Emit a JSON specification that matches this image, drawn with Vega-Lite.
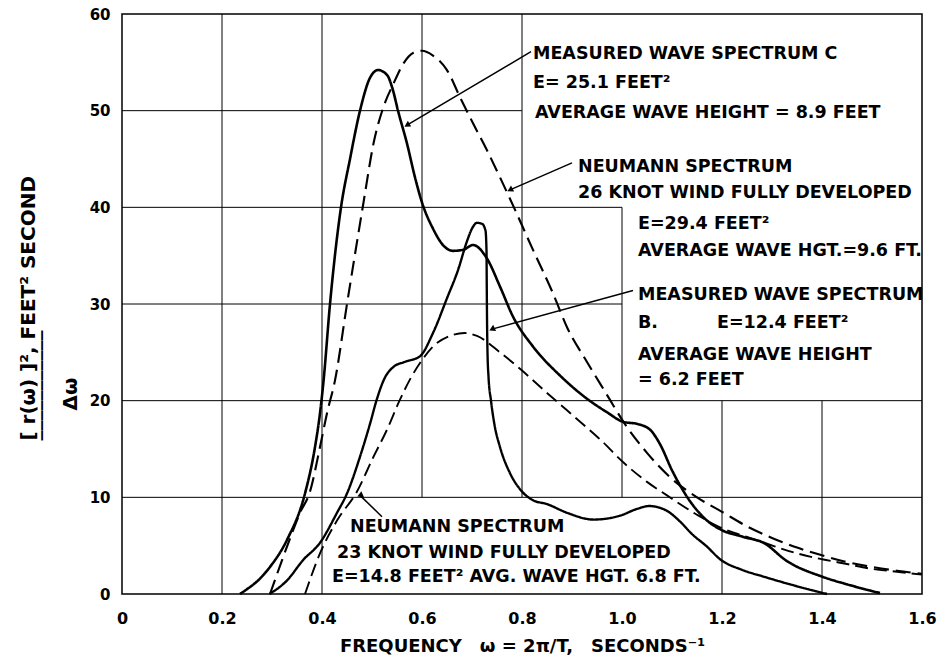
{
  "$schema": "https://vega.github.io/schema/vega-lite/v6.json",
  "width": 800,
  "height": 580,
  "autosize": {"type": "none"},
  "padding": {"left": 122, "top": 14, "right": 21, "bottom": 75},
  "background": "white",
  "config": {"view": {"stroke": "black", "strokeWidth": 1.5}, "font": "DejaVu Sans"},
  "datasets": {
    "grid": [
      {"x": 0.2, "x2": 0.2, "y": 0, "y2": 60},
      {"x": 0.4, "x2": 0.4, "y": 0, "y2": 60},
      {"x": 0.6, "x2": 0.6, "y": 10, "y2": 60},
      {"x": 0.8, "x2": 0.8, "y": 10, "y2": 60},
      {"x": 1.0, "x2": 1.0, "y": 10, "y2": 40},
      {"x": 1.2, "x2": 1.2, "y": 0, "y2": 20},
      {"x": 1.4, "x2": 1.4, "y": 0, "y2": 20},
      {"x": 0, "x2": 1.6, "y": 10, "y2": 10},
      {"x": 0, "x2": 1.6, "y": 20, "y2": 20},
      {"x": 0, "x2": 1.0, "y": 30, "y2": 30},
      {"x": 0, "x2": 1.0, "y": 40, "y2": 40},
      {"x": 0, "x2": 0.8, "y": 50, "y2": 50}
    ],
    "curves": [
      {"s": "C", "x": 0.236, "y": 0},
      {"s": "C", "x": 0.25, "y": 0.5},
      {"s": "C", "x": 0.27, "y": 1.3},
      {"s": "C", "x": 0.296, "y": 2.8},
      {"s": "C", "x": 0.33, "y": 5.6},
      {"s": "C", "x": 0.366, "y": 10.4},
      {"s": "C", "x": 0.386, "y": 15.2},
      {"s": "C", "x": 0.396, "y": 18.7},
      {"s": "C", "x": 0.403, "y": 22},
      {"s": "C", "x": 0.416, "y": 30},
      {"s": "C", "x": 0.438, "y": 40},
      {"s": "C", "x": 0.456, "y": 45},
      {"s": "C", "x": 0.476, "y": 50},
      {"s": "C", "x": 0.496, "y": 53.4},
      {"s": "C", "x": 0.512, "y": 54.2},
      {"s": "C", "x": 0.53, "y": 53.7},
      {"s": "C", "x": 0.542, "y": 52.1},
      {"s": "C", "x": 0.552, "y": 50},
      {"s": "C", "x": 0.57, "y": 46.6},
      {"s": "C", "x": 0.586, "y": 43.1},
      {"s": "C", "x": 0.6, "y": 40.5},
      {"s": "C", "x": 0.622, "y": 37.8},
      {"s": "C", "x": 0.642, "y": 36.1},
      {"s": "C", "x": 0.662, "y": 35.5},
      {"s": "C", "x": 0.682, "y": 35.6},
      {"s": "C", "x": 0.702, "y": 36.1},
      {"s": "C", "x": 0.73, "y": 34.7},
      {"s": "C", "x": 0.756, "y": 31.8},
      {"s": "C", "x": 0.782, "y": 28.7},
      {"s": "C", "x": 0.822, "y": 25.6},
      {"s": "C", "x": 0.876, "y": 22.6},
      {"s": "C", "x": 0.93, "y": 20.2},
      {"s": "C", "x": 0.97, "y": 18.8},
      {"s": "C", "x": 1.003, "y": 17.8},
      {"s": "C", "x": 1.03, "y": 17.6},
      {"s": "C", "x": 1.056, "y": 17},
      {"s": "C", "x": 1.076, "y": 15.5},
      {"s": "C", "x": 1.1, "y": 12.8},
      {"s": "C", "x": 1.136, "y": 9.6},
      {"s": "C", "x": 1.17, "y": 7.6},
      {"s": "C", "x": 1.2, "y": 6.6},
      {"s": "C", "x": 1.243, "y": 5.9},
      {"s": "C", "x": 1.283, "y": 5.3},
      {"s": "C", "x": 1.33, "y": 3.4},
      {"s": "C", "x": 1.4, "y": 1.8},
      {"s": "C", "x": 1.45, "y": 1.0},
      {"s": "C", "x": 1.516, "y": 0.1},
      {"s": "B", "x": 0.295, "y": 0},
      {"s": "B", "x": 0.33, "y": 1.4},
      {"s": "B", "x": 0.362, "y": 3.5},
      {"s": "B", "x": 0.396, "y": 5.3},
      {"s": "B", "x": 0.43, "y": 8.4},
      {"s": "B", "x": 0.45, "y": 10.4},
      {"s": "B", "x": 0.476, "y": 14.2},
      {"s": "B", "x": 0.496, "y": 17.6},
      {"s": "B", "x": 0.51, "y": 20.2},
      {"s": "B", "x": 0.525, "y": 22.3},
      {"s": "B", "x": 0.543, "y": 23.5},
      {"s": "B", "x": 0.565, "y": 24},
      {"s": "B", "x": 0.596, "y": 24.6},
      {"s": "B", "x": 0.622, "y": 27},
      {"s": "B", "x": 0.65, "y": 30.6},
      {"s": "B", "x": 0.672, "y": 33.5},
      {"s": "B", "x": 0.69, "y": 36.5},
      {"s": "B", "x": 0.7, "y": 37.8},
      {"s": "B", "x": 0.71, "y": 38.4},
      {"s": "B", "x": 0.72, "y": 38.3},
      {"s": "B", "x": 0.727, "y": 37.6},
      {"s": "B", "x": 0.729, "y": 35.5},
      {"s": "B", "x": 0.7295, "y": 32},
      {"s": "B", "x": 0.73, "y": 28.7},
      {"s": "B", "x": 0.731, "y": 25},
      {"s": "B", "x": 0.733, "y": 22.5},
      {"s": "B", "x": 0.738, "y": 20},
      {"s": "B", "x": 0.745, "y": 17.5},
      {"s": "B", "x": 0.756, "y": 15.2},
      {"s": "B", "x": 0.776, "y": 12.5},
      {"s": "B", "x": 0.8, "y": 10.6},
      {"s": "B", "x": 0.822, "y": 9.7},
      {"s": "B", "x": 0.85, "y": 9.3},
      {"s": "B", "x": 0.89, "y": 8.4},
      {"s": "B", "x": 0.943, "y": 7.7},
      {"s": "B", "x": 0.996, "y": 8.1},
      {"s": "B", "x": 1.03, "y": 8.8},
      {"s": "B", "x": 1.055, "y": 9.1},
      {"s": "B", "x": 1.07, "y": 9.0},
      {"s": "B", "x": 1.09, "y": 8.6},
      {"s": "B", "x": 1.116, "y": 7.5},
      {"s": "B", "x": 1.14, "y": 6.2},
      {"s": "B", "x": 1.17, "y": 4.9},
      {"s": "B", "x": 1.196, "y": 3.6},
      {"s": "B", "x": 1.24, "y": 2.5},
      {"s": "B", "x": 1.283, "y": 1.8},
      {"s": "B", "x": 1.35, "y": 0.8},
      {"s": "B", "x": 1.41, "y": 0},
      {"s": "N26", "x": 0.296, "y": 0},
      {"s": "N26", "x": 0.33, "y": 4.9},
      {"s": "N26", "x": 0.356, "y": 8.4},
      {"s": "N26", "x": 0.376, "y": 10.6},
      {"s": "N26", "x": 0.396, "y": 15.2},
      {"s": "N26", "x": 0.41, "y": 18.7},
      {"s": "N26", "x": 0.426, "y": 22.1},
      {"s": "N26", "x": 0.45, "y": 30},
      {"s": "N26", "x": 0.483, "y": 40.5},
      {"s": "N26", "x": 0.503, "y": 46.6},
      {"s": "N26", "x": 0.523, "y": 50.4},
      {"s": "N26", "x": 0.543, "y": 52.8},
      {"s": "N26", "x": 0.563, "y": 54.9},
      {"s": "N26", "x": 0.583, "y": 56},
      {"s": "N26", "x": 0.6, "y": 56.2},
      {"s": "N26", "x": 0.622, "y": 55.7},
      {"s": "N26", "x": 0.65, "y": 54.2},
      {"s": "N26", "x": 0.676, "y": 51.4},
      {"s": "N26", "x": 0.702, "y": 48.7},
      {"s": "N26", "x": 0.73, "y": 45.9},
      {"s": "N26", "x": 0.756, "y": 43.1},
      {"s": "N26", "x": 0.782, "y": 40.2},
      {"s": "N26", "x": 0.822, "y": 35.6},
      {"s": "N26", "x": 0.862, "y": 31.1},
      {"s": "N26", "x": 0.89, "y": 27.6},
      {"s": "N26", "x": 0.93, "y": 24},
      {"s": "N26", "x": 0.97, "y": 20.6},
      {"s": "N26", "x": 1.003, "y": 17.8},
      {"s": "N26", "x": 1.05, "y": 14.6},
      {"s": "N26", "x": 1.1, "y": 11.9},
      {"s": "N26", "x": 1.15, "y": 10},
      {"s": "N26", "x": 1.2, "y": 8.5},
      {"s": "N26", "x": 1.25, "y": 7.0},
      {"s": "N26", "x": 1.3, "y": 5.8},
      {"s": "N26", "x": 1.35, "y": 4.8},
      {"s": "N26", "x": 1.4, "y": 4.0},
      {"s": "N26", "x": 1.45, "y": 3.3},
      {"s": "N26", "x": 1.5, "y": 2.8},
      {"s": "N26", "x": 1.55, "y": 2.4},
      {"s": "N26", "x": 1.6, "y": 2.1},
      {"s": "N23", "x": 0.366, "y": 0},
      {"s": "N23", "x": 0.396, "y": 4.2},
      {"s": "N23", "x": 0.43, "y": 7.6},
      {"s": "N23", "x": 0.47, "y": 10.6},
      {"s": "N23", "x": 0.503, "y": 14.2},
      {"s": "N23", "x": 0.53, "y": 17},
      {"s": "N23", "x": 0.555, "y": 20},
      {"s": "N23", "x": 0.576, "y": 22.2},
      {"s": "N23", "x": 0.6, "y": 24.2},
      {"s": "N23", "x": 0.622, "y": 25.6},
      {"s": "N23", "x": 0.656, "y": 26.7},
      {"s": "N23", "x": 0.685, "y": 27},
      {"s": "N23", "x": 0.71, "y": 26.7},
      {"s": "N23", "x": 0.756, "y": 25},
      {"s": "N23", "x": 0.796, "y": 23.3},
      {"s": "N23", "x": 0.85, "y": 20.8},
      {"s": "N23", "x": 0.89, "y": 19},
      {"s": "N23", "x": 0.93, "y": 17.2},
      {"s": "N23", "x": 0.956, "y": 16},
      {"s": "N23", "x": 1.003, "y": 13.6},
      {"s": "N23", "x": 1.05, "y": 11.6},
      {"s": "N23", "x": 1.09, "y": 10.2},
      {"s": "N23", "x": 1.15, "y": 8.2},
      {"s": "N23", "x": 1.196, "y": 6.9},
      {"s": "N23", "x": 1.25, "y": 5.9},
      {"s": "N23", "x": 1.29, "y": 5.2},
      {"s": "N23", "x": 1.35, "y": 4.2},
      {"s": "N23", "x": 1.4, "y": 3.6},
      {"s": "N23", "x": 1.45, "y": 3.1},
      {"s": "N23", "x": 1.5, "y": 2.6},
      {"s": "N23", "x": 1.55, "y": 2.3},
      {"s": "N23", "x": 1.6, "y": 2.0}
    ],
    "arrows": [
      {"id": "a1", "x": 0.818, "y": 56.1, "x2": 0.57, "y2": 48.5},
      {"id": "a2", "x": 0.9, "y": 44.6, "x2": 0.776, "y2": 41.8},
      {"id": "a3", "x": 1.022, "y": 31.4, "x2": 0.74, "y2": 27.4},
      {"id": "a4", "x": 0.52, "y": 8.0, "x2": 0.476, "y2": 10.2}
    ],
    "labels": [
      {"x": 0.822, "y": 55.34, "t": "MEASURED WAVE SPECTRUM C"},
      {"x": 0.822, "y": 52.34, "t": "E= 25.1 FEET²"},
      {"x": 0.826, "y": 49.24, "t": "AVERAGE WAVE HEIGHT = 8.9 FEET"},
      {"x": 0.912, "y": 43.65, "t": "NEUMANN SPECTRUM"},
      {"x": 0.912, "y": 40.96, "t": "26 KNOT WIND FULLY DEVELOPED"},
      {"x": 1.032, "y": 37.76, "t": "E=29.4 FEET²"},
      {"x": 1.032, "y": 34.97, "t": "AVERAGE WAVE HGT.=9.6 FT."},
      {"x": 1.032, "y": 30.41, "t": "MEASURED WAVE SPECTRUM"},
      {"x": 1.032, "y": 27.52, "t": "B."},
      {"x": 1.19, "y": 27.52, "t": "E=12.4 FEET²"},
      {"x": 1.032, "y": 24.21, "t": "AVERAGE WAVE HEIGHT"},
      {"x": 1.032, "y": 21.62, "t": "= 6.2 FEET"},
      {"x": 0.456, "y": 6.41, "t": "NEUMANN SPECTRUM"},
      {"x": 0.43, "y": 3.72, "t": "23 KNOT WIND FULLY DEVELOPED"},
      {"x": 0.42, "y": 1.24, "t": "E=14.8 FEET²  AVG. WAVE HGT. 6.8 FT."}
    ]
  },
  "encoding": {
    "x": {
      "field": "x", "type": "quantitative",
      "scale": {"domain": [0, 1.6], "nice": false, "zero": false},
      "axis": {
        "values": [0, 0.2, 0.4, 0.6, 0.8, 1.0, 1.2, 1.4, 1.6],
        "labelExpr": "datum.value === 0 ? '0' : format(datum.value, '.1f')",
        "grid": false, "ticks": false, "domain": false,
        "labelFont": "DejaVu Sans", "labelFontSize": 16, "labelFontWeight": "bold", "labelColor": "black",
        "labelPadding": 16, "labelFlush": false,
        "title": "FREQUENCY\u2002\u2002ω = 2π/T,\u2002\u2002SECONDS⁻¹",
        "titleFont": "DejaVu Sans", "titleFontSize": 18, "titleFontWeight": "bold", "titleColor": "black",
        "titlePadding": 11
      }
    },
    "y": {
      "field": "y", "type": "quantitative",
      "scale": {"domain": [0, 60], "nice": false},
      "axis": {
        "values": [0, 10, 20, 30, 40, 50, 60],
        "grid": false, "ticks": false, "domain": false,
        "labelFont": "DejaVu Sans", "labelFontSize": 15, "labelFontWeight": "bold", "labelColor": "black",
        "labelPadding": 12,
        "title": ["[ r(ω) ]², FEET² SECOND", "‾‾‾‾‾‾‾‾‾‾‾", "\u200b\u2002\u2002\u2002Δω"],
        "titleFont": "DejaVu Sans", "titleFontSize": 20, "titleFontWeight": "bold", "titleColor": "black",
        "titleAlign": "left", "titleBaseline": "top", "titleAngle": -90,
        "titleX": -104, "titleY": 426, "titleLineHeight": 21
      }
    }
  },
  "layer": [
    {
      "data": {"name": "grid"},
      "mark": {"type": "rule", "color": "black", "strokeWidth": 1},
      "encoding": {"x2": {"field": "x2"}, "y2": {"field": "y2"}}
    },
    {
      "data": {"name": "curves"},
      "mark": {"type": "line", "color": "black", "interpolate": "monotone"},
      "encoding": {
        "detail": {"field": "s"},
        "strokeDash": {"field": "s", "type": "nominal", "scale": {"domain": ["C", "B", "N26", "N23"], "range": [[1, 0], [1, 0], [15, 7], [13, 6]]}, "legend": null},
        "strokeWidth": {"field": "s", "type": "nominal", "scale": {"domain": ["C", "B", "N26", "N23"], "range": [2.6, 1.9, 2.3, 2.5]}, "legend": null}
      }
    },
    {
      "data": {"name": "arrows"},
      "mark": {"type": "rule", "color": "black", "strokeWidth": 1.5},
      "encoding": {"x2": {"field": "x2"}, "y2": {"field": "y2"}}
    },
    {
      "data": {"name": "arrows"},
      "mark": {"type": "point", "shape": "triangle-up", "filled": true, "color": "black", "size": 45, "opacity": 1},
      "encoding": {
        "x": {"field": "x2", "type": "quantitative"},
        "y": {"field": "y2", "type": "quantitative"},
        "angle": {"field": "id", "type": "nominal", "scale": {"domain": ["a1", "a2", "a3", "a4"], "range": [239.5, 246.5, 254.9, 315]}, "legend": null}
      }
    },
    {
      "data": {"name": "labels"},
      "mark": {"type": "text", "align": "left", "baseline": "alphabetic", "font": "DejaVu Sans", "fontSize": 17.5, "fontWeight": "bold", "color": "black"},
      "encoding": {"text": {"field": "t"}}
    }
  ]
}
